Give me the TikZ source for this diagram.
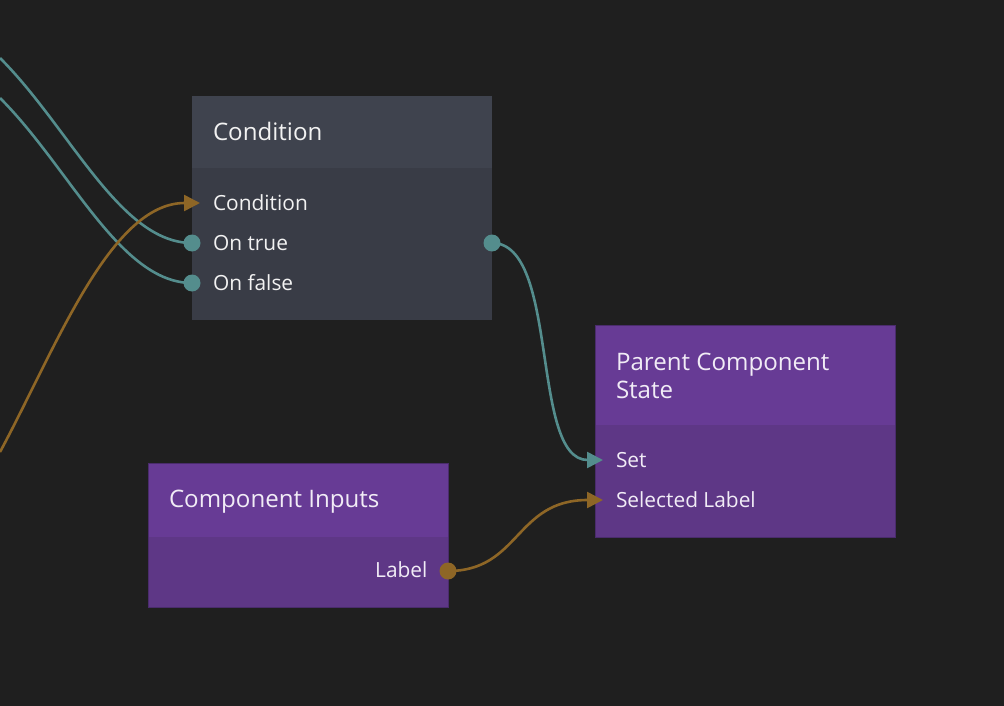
\documentclass[tikz,border=0pt]{standalone}
\usepackage{fontspec}
\setmainfont{Open Sans}
\usetikzlibrary{arrows.meta}
\definecolor{bg}{HTML}{1F1F1F}
\definecolor{condhead}{HTML}{3F434E}
\definecolor{condbody}{HTML}{393C46}
\definecolor{purhead}{HTML}{673B95}
\definecolor{purbody}{HTML}{5E3786}
\definecolor{puredge}{HTML}{4A2C6C}
\definecolor{tealw}{HTML}{548D8D}
\definecolor{orangew}{HTML}{8E6626}
\definecolor{txt}{HTML}{F2F2F2}
\definecolor{ptxt}{HTML}{F1ECF6}
\tikzset{
  boxpart/.style={inner sep=0pt, outer sep=0pt, draw=none, anchor=north west},
  titletext/.style={font=\fontsize{24.1}{28}\selectfont, inner sep=0pt, outer sep=0pt},
  porttext/.style={font=\fontsize{20.9}{25}\selectfont, inner sep=0pt, outer sep=0pt},
  wire/.style={line width=2.6pt},
  tealwire/.style={wire, draw=tealw},
  orangewire/.style={wire, draw=orangew},
  tipin/.style={-{Triangle[length=16pt,width=16pt]}},
  portdot/.style={circle, inner sep=0pt, minimum size=17pt, draw=none},
}
\begin{document}
\begin{tikzpicture}[x=1pt,y=-1pt]
\fill[bg] (0,0) rectangle (1004,706);
\useasboundingbox (0,0) rectangle (1004,706);

% Condition node
\node[boxpart, fill=condhead, minimum width=300pt, minimum height=72pt] (condH) at (192,96) {};
\node[boxpart, fill=condbody, minimum width=300pt, minimum height=152pt] (condB) at (192,168) {};
\node[titletext, text=txt, anchor=base west] (condT) at (213,141) {Condition};
\node[porttext, text=txt, anchor=base west] (condP1) at (213,210) {Condition};
\node[porttext, text=txt, anchor=base west] (condP2) at (213,250) {On true};
\node[porttext, text=txt, anchor=base west] (condP3) at (213,290) {On false};

% Parent Component State node
\node[boxpart, fill=purhead, minimum width=300pt, minimum height=100pt] (parH) at (595,325) {};
\node[boxpart, fill=purbody, minimum width=300pt, minimum height=112pt] (parB) at (595,425) {};
\draw[puredge, line width=1pt] (parH.north west) rectangle (parB.south east);
\node[titletext, text=ptxt, anchor=base west] (parT1) at (616,370) {Parent Component};
\node[titletext, text=ptxt, anchor=base west] (parT2) at (616,398) {State};
\node[porttext, text=ptxt, anchor=base west] (parP1) at (616,467) {Set};
\node[porttext, text=ptxt, anchor=base west] (parP2) at (616,507) {Selected Label};

% Component Inputs node
\node[boxpart, fill=purhead, minimum width=300pt, minimum height=73pt] (ciH) at (148.5,463.5) {};
\node[boxpart, fill=purbody, minimum width=300pt, minimum height=71pt] (ciB) at (148.5,536.5) {};
\draw[puredge, line width=1pt] (ciH.north west) rectangle (ciB.south east);
\node[titletext, text=ptxt, anchor=base west] (ciT) at (169,507) {Component Inputs};
\node[porttext, text=ptxt, anchor=base east] (ciP1) at (427.5,577) {Label};

% port coordinates
\coordinate (srcA) at (0,58);
\coordinate (srcB) at (0,98);
\coordinate (srcC) at (0,452);
\coordinate (condIn) at (200,203);
\coordinate (onTrue) at (192,243);
\coordinate (onFalse) at (192,283);
\coordinate (condOut) at (492,243);
\coordinate (setIn) at (603,460);
\coordinate (selIn) at (603,500);
\coordinate (labelOut) at (448,571);

% wires
\draw[tealwire] (srcA) .. controls (70,128) and (120,243) .. (onTrue);
\draw[tealwire] (srcB) .. controls (70,168) and (120,283) .. (onFalse);
\draw[orangewire, tipin, orangew] (srcC) .. controls (55,350) and (110,203) .. (condIn);
\draw[tealwire, tipin, tealw] (condOut) .. controls (560,243) and (530,460) .. (setIn);
\draw[orangewire, tipin, orangew] (labelOut) .. controls (520,571) and (515,500) .. (selIn);

% port dots
\node[portdot, fill=tealw] (onTrueDot) at (onTrue) {};
\node[portdot, fill=tealw] (onFalseDot) at (onFalse) {};
\node[portdot, fill=tealw] (condOutDot) at (condOut) {};
\node[portdot, fill=orangew] (labelOutDot) at (labelOut) {};
\end{tikzpicture}
\end{document}
